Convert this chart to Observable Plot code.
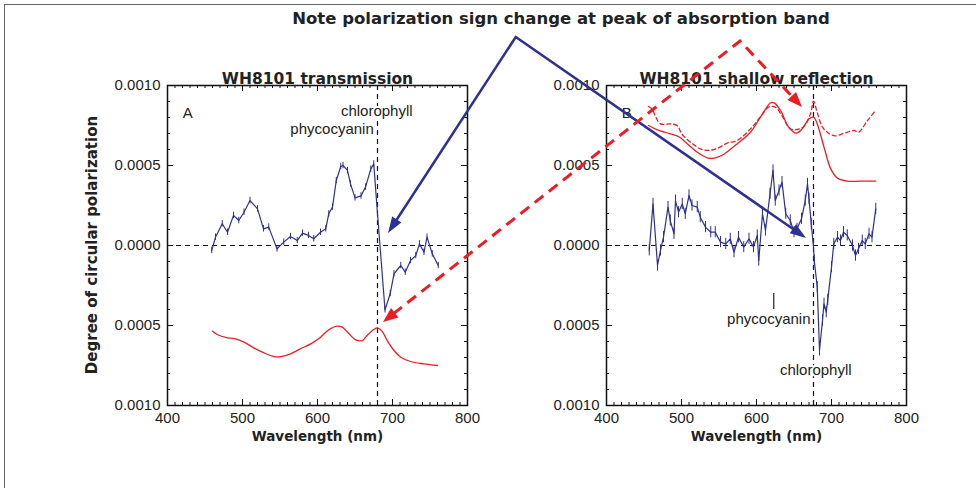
<!DOCTYPE html>
<html><head><meta charset="utf-8">
<script src="https://cdn.jsdelivr.net/npm/d3@7"></script>
<script src="https://cdn.jsdelivr.net/npm/@observablehq/plot@0.6"></script>
<style>
body{margin:0;background:#fff;}
#fig{position:relative;width:976px;height:488px;overflow:hidden;background:#fff;font-family:"Liberation Sans",Arial,sans-serif;}
#fig svg{position:absolute;left:0;top:0;}
#border{position:absolute;left:4px;top:4px;width:1100px;height:700px;border:1.5px solid #666;}
#title{position:absolute;top:9px;left:561px;transform:translateX(-50%);white-space:nowrap;font-family:"DejaVu Sans",sans-serif;font-weight:bold;font-size:16.5px;color:#222;}
#ylabel{position:absolute;left:92px;top:245px;transform:translate(-50%,-50%) rotate(-90deg);white-space:nowrap;font-family:"DejaVu Sans",sans-serif;font-weight:bold;font-size:15px;color:#222;}
</style></head><body>
<div id="fig">
  <div id="border"></div>
  <div id="title">Note polarization sign change at peak of absorption band</div>
  <div id="ylabel">Degree of circular polarization</div>
</div>
<script>
// ---- Data (values in units of 1e-4 degree of circular polarization) ----
// Panel A: WH8101 transmission
const transBlueWl = [459,464,473,480,488,495,502,510,520,528,535,546,555,564,573,580,588,595,604,611,615,620,625,631,634,640,644,650,658,664,671,675,680,690,697,702,711,717,724,731,736,742,746,753,761];
const transBlueV  = [-0.31,0.52,1.36,0.83,1.88,1.56,2.08,2.81,2.29,1.04,1.15,-0.21,0.21,0.56,0.31,0.77,0.63,0.42,0.83,1.04,1.98,2.4,4.06,4.94,5.0,4.69,3.85,2.98,3.1,3.65,4.77,5.1,1.98,-4.02,-3.0,-1.77,-1.25,-1.67,-0.94,-0.63,0.1,-0.42,0.52,-0.52,-1.25];
const transRedWl = [460,466,480,488,502,515,528,542,551,564,577,591,604,615,626,633,642,651,660,666,675,680,686,693,702,711,724,742,760];
const transRedV  = [-5.35,-5.56,-5.77,-5.81,-6.04,-6.4,-6.7,-6.94,-6.94,-6.77,-6.46,-6.15,-5.73,-5.27,-5.04,-5.1,-5.52,-5.9,-5.94,-5.63,-5.25,-5.15,-5.35,-5.94,-6.56,-6.98,-7.25,-7.4,-7.5];
// Panel B: WH8101 shallow reflection
const reflBlueWl = [457,462,468,472,476,482,485,490,492,496,501,505,510,514,521,525,532,539,545,552,559,565,570,576,583,590,596,601,603,608,612,618,622,625,630,634,639,645,650,654,660,665,668,670,673,676,677,681,684,688,690,693,695,700,703,708,712,716,721,728,732,736,741,745,750,754,759];
const reflBlueV  = [-0.3,2.6,-1.25,-0.31,0.52,2.4,1.56,0.73,2.81,2.08,2.6,1.98,3.13,2.5,2.4,1.77,1.15,0.83,0.83,0.21,0.1,0.42,-0.42,0.52,-0.1,0.42,-0.1,0.63,-0.94,1.98,0.94,3.23,4.69,2.81,3.44,3.96,1.98,1.56,0.83,1.04,1.67,2.81,3.85,2.92,1.35,-0.1,-0.94,-2.6,-6.56,-4.69,-3.65,-4.17,-3.4,-1.35,0.1,0.52,0.31,0.83,0.63,0,-0.63,-0.21,0.31,0.1,0.73,0.52,2.29];
const reflRedWl = [456,468,485,496,508,521,536,545,556,574,592,608,619,624,632,643,653,661,670,676,681,690,699,708,721,739,759];
const reflRedV  = [7.5,7.23,6.98,6.81,6.35,5.83,5.46,5.48,5.69,6.35,7.08,8.23,8.92,8.9,8.44,7.4,7.02,7.29,7.92,8.02,7.6,6.15,4.79,4.21,4.02,4.02,4.02];
const reflRedDashWl = [456,461,465,472,485,494,501,512,525,536,548,561,574,592,605,616,625,634,645,654,663,672,676,681,688,696,705,716,730,736,748,759];
const reflRedDashV  = [8.69,8.52,8.1,7.6,7.6,7.5,6.94,6.46,6.04,5.94,6.08,6.4,6.56,7.29,8.02,8.65,8.65,8.1,7.29,7.25,7.44,8.23,9.02,8.31,7.4,7.02,6.85,7.0,7.19,7.08,7.81,8.44];

// Axis ticks
const xMajor = [400,500,600,700,800];
const yMajor = [-0.001,-0.0005,0,0.0005,0.001];
const xMinor = d3.range(400,801,10).filter(d => d % 100 !== 0);
const yMinor = d3.range(-10,11,1).filter(d => d % 5 !== 0).map(d => d/10000);

// Annotation anchors (data coordinates)
const chlLineA = 680, chlLineB = 676;
const errA = 0.2, errB = 0.35;

const BLUE = "#2e3192", RED = "#ed1c24", INK = "#222";
const BOLD = "DejaVu Sans, sans-serif";
const toRows = (wl, v) => wl.map((w,i) => ({wl: w, v: v[i]/1e4}));

function panel({mLeft, mRight, title, blue, err, reds, vline, labels}) {
  const fh = 320, fw = 300;
  const dash = {stroke: "#111", strokeWidth: 1.2, strokeDasharray: "5,4"};
  const marks = [
    Plot.ruleY([0], dash),
    Plot.ruleX([vline], dash),
    ...reds.map(r => Plot.line(r.data, {x: "wl", y: "v", stroke: RED, strokeWidth: 1.3, curve: "catmull-rom", strokeDasharray: r.dash || null})),
    Plot.ruleX(blue, {x: "wl", y1: d => d.v - err/1e4, y2: d => d.v + err/1e4, stroke: BLUE, strokeWidth: 1}),
    Plot.line(blue, {x: "wl", y: "v", stroke: BLUE, strokeWidth: 1.2}),
    Plot.frame({stroke: "#111", strokeWidth: 1.5}),
    Plot.ruleX(xMajor, {insetTop: fh - 6, stroke: "#111"}),
    Plot.ruleX(xMajor, {insetBottom: fh - 6, stroke: "#111"}),
    Plot.ruleX(xMinor, {insetTop: fh - 3, stroke: "#111"}),
    Plot.ruleX(xMinor, {insetBottom: fh - 3, stroke: "#111"}),
    Plot.ruleY(yMajor, {insetRight: fw - 6, stroke: "#111"}),
    Plot.ruleY(yMajor, {insetLeft: fw - 6, stroke: "#111"}),
    Plot.ruleY(yMinor, {insetRight: fw - 3, stroke: "#111"}),
    Plot.ruleY(yMinor, {insetLeft: fw - 3, stroke: "#111"}),
    Plot.axisX(xMajor, {tickSize: 0, tickPadding: 7, label: null, tickFormat: d => String(d), fontSize: 15}),
    Plot.axisY(yMajor, {tickSize: 0, tickPadding: 7, label: null, tickFormat: d => Math.abs(d).toFixed(4), fontSize: 15}),
    Plot.text([title], {text: d => d, frameAnchor: "top", dy: -13, fontFamily: BOLD, fontWeight: "bold", fontSize: 15.5, fill: INK}),
    Plot.text(["Wavelength (nm)"], {text: d => d, frameAnchor: "bottom", dy: 35, fontFamily: BOLD, fontWeight: "bold", fontSize: 13.5, fill: INK}),
    ...labels.map(l => Plot.text([l], {x: "x", y: "y", text: "t", textAnchor: l.anchor, fontSize: 15, fill: INK, stroke: "white", strokeWidth: 4, paintOrder: "stroke"}))
  ];
  if (labels.tick) marks.push(Plot.ruleX([labels.tick], {x: "x", y1: "y1", y2: "y2", stroke: INK, strokeWidth: 1.2}));
  return Plot.plot({
    width: 976, height: 488,
    marginLeft: mLeft, marginRight: mRight, marginTop: 85, marginBottom: 83,
    x: {domain: [400, 800], label: null},
    y: {domain: [-0.001, 0.001], label: null},
    style: {background: "transparent", fontFamily: "Liberation Sans, Arial, sans-serif", fontSize: "15px", color: INK, overflow: "visible"},
    marks
  });
}

const labelsA = [
  {x: 427, y: 0.00083, t: "A", anchor: "middle"},
  {x: 679, y: 0.00084, t: "chlorophyll", anchor: "middle"},
  {x: 675, y: 0.00073, t: "phycocyanin", anchor: "end"}
];
const labelsB = [
  {x: 427, y: 0.000825, t: "B", anchor: "middle"},
  {x: 672, y: -0.000463, t: "phycocyanin", anchor: "end"},
  {x: 679, y: -0.00078, t: "chlorophyll", anchor: "middle"}
];
labelsB.tick = {x: 623, y1: -0.0003, y2: -0.0004};

const plotA = panel({mLeft: 167, mRight: 509, title: "WH8101 transmission",
  blue: toRows(transBlueWl, transBlueV), err: errA,
  reds: [{data: toRows(transRedWl, transRedV)}], vline: chlLineA, labels: labelsA});
const plotB = panel({mLeft: 606, mRight: 70, title: "WH8101 shallow reflection",
  blue: toRows(reflBlueWl, reflBlueV), err: errB,
  reds: [{data: toRows(reflRedWl, reflRedV)}, {data: toRows(reflRedDashWl, reflRedDashV), dash: "4,3"}],
  vline: chlLineB, labels: labelsB});
const fig = document.getElementById("fig");
fig.appendChild(plotA);
fig.appendChild(plotB);

// ---- Annotation arrows (anchored in panel data coordinates) ----
function sc(plot, name) {
  const s = plot.scale(name);
  return s && s.apply ? (v => s.apply(v)) : d3.scaleLinear(s.domain, s.range);
}
const xA = sc(plotA, "x"), yA = sc(plotA, "y"), xB = sc(plotB, "x"), yB = sc(plotB, "y");
const blueApex = [xA(865), yA(0.0013)];
const redApex  = [xA(1164), yA(0.001275)];
const blueTipA = [xA(694.7), yA(0.000075)];
const blueTipB = [xB(666.7), yB(0.000044)];
const redTipA  = [xA(688), yA(-0.000481)];
const redTipB  = [xB(661.3), yB(0.000863)];

const over = d3.select(fig).append("svg").attr("width", 976).attr("height", 488);
function head(from, tip, len, hw, color) {
  const dx = tip[0] - from[0], dy = tip[1] - from[1], L = Math.hypot(dx, dy);
  const ux = dx / L, uy = dy / L;
  const bx = tip[0] - ux * len, by = tip[1] - uy * len;
  over.append("path")
    .attr("d", `M${tip[0]},${tip[1]}L${bx - uy*hw},${by + ux*hw}L${bx + uy*hw},${by - ux*hw}Z`)
    .attr("fill", color);
  return [bx + ux*2, by + uy*2];
}
function vArrow(apex, tip1, tip2, color, width, dasharray, len, hw) {
  const b1 = head(apex, tip1, len, hw, color);
  const b2 = head(apex, tip2, len, hw, color);
  over.append("path")
    .attr("d", `M${b1[0]},${b1[1]}L${apex[0]},${apex[1]}L${b2[0]},${b2[1]}`)
    .attr("fill", "none").attr("stroke", color).attr("stroke-width", width)
    .attr("stroke-linejoin", "miter").attr("stroke-dasharray", dasharray);
}
vArrow(blueApex, blueTipA, blueTipB, BLUE, 2.5, null, 16, 5.5);
vArrow(redApex, redTipA, redTipB, RED, 3, "11,7", 15, 6);
</script>
</body></html>
